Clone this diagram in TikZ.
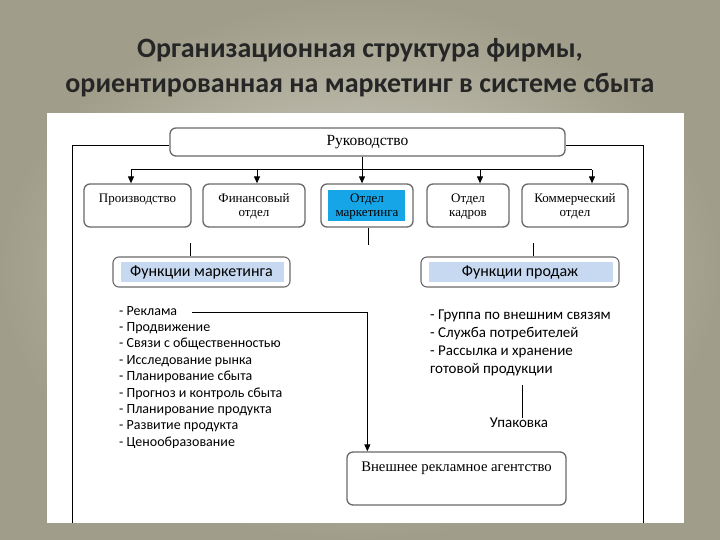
\documentclass[tikz,border=0pt]{standalone}
\usepackage{fontspec}
\setmainfont{Liberation Serif}
\newfontfamily\calfont{Carlito}
\usetikzlibrary{
  arrows.meta,
  positioning
}
\definecolor{bgout}{RGB}{160,157,138}
\definecolor{bgin}{RGB}{214,213,202}
\definecolor{edgegray}{RGB}{105,105,105}
\definecolor{mktblue}{RGB}{22,166,232}
\definecolor{palblue}{RGB}{198,217,240}
\definecolor{titlecol}{RGB}{38,38,38}

\begin{document}
\begin{tikzpicture}[x=1pt,y=1pt,
  box/.style={draw=edgegray,line width=1.3pt,rounded corners=6pt,fill=white,inner sep=0pt},
  boxtext/.style={font=\fontsize{13}{14}\selectfont,align=center,inner sep=0pt,anchor=north},
  funtext/.style={font=\calfont\fontsize{16}{18}\selectfont,inner sep=0pt},
  listtext/.style={font=\calfont\fontsize{14}{15}\selectfont,inner sep=0pt,anchor=west,
    text height=9pt,text depth=3pt},
  rlisttext/.style={font=\calfont\fontsize{15}{16}\selectfont,inner sep=0pt,anchor=west,
    text height=9pt,text depth=3pt},
  titletext/.style={font=\calfont\bfseries\fontsize{28}{30}\selectfont,text=titlecol,inner sep=0pt},
  conn/.style={line width=1pt},
  arr/.style={conn,-{Triangle[length=7pt,width=6pt]}}
]
\useasboundingbox (0,0) rectangle (720,-540);
\shade[inner color=bgin,outer color=bgout] (0,0) rectangle (720,-540);

% title
\node[titletext] (title1) at (360,-50) {Организационная структура фирмы,};
\node[titletext] (title2) at (360,-85) {ориентированная на маркетинг в системе сбыта};

% sheet
\fill[white] (47,-113) rectangle (684,-523);

% head
\node[box,minimum width=395,minimum height=28] (ruk) at (367.5,-142) {};
\node[boxtext,font=\fontsize{15.5}{17}\selectfont,anchor=center] (rukt) at (ruk) {Руководство};

% departments
\node[box,minimum width=107,minimum height=43] (proizv) at (137.5,-205.5) {};
\node[box,minimum width=102,minimum height=43] (finans) at (254,-205.5) {};
\node[box,minimum width=92,minimum height=43] (market) at (367,-205.5) {};
\node[box,minimum width=82,minimum height=43] (kadry) at (468,-205.5) {};
\node[box,minimum width=106,minimum height=43] (kommerc) at (575,-205.5) {};
\fill[mktblue] ([shift={(8pt,-7pt)}]market.north west) rectangle ([shift={(-9pt,7pt)}]market.south east);

\node[boxtext,below=10pt of proizv.north] (proizvt) {Производство};
\node[boxtext,below=10pt of finans.north] (finanst) {Финансовый\\отдел};
\node[boxtext,below=10pt of market.north] (marktt) {Отдел\\маркетинга};
\node[boxtext,below=10pt of kadry.north] (kadryt) {Отдел\\кадров};
\node[boxtext,below=10pt of kommerc.north] (kommerct) {Коммерческий\\отдел};

% bus
\coordinate (b1) at (131,-170);
\coordinate (b2) at (257,-170);
\coordinate (b3) at (362,-170);
\coordinate (b4) at (480,-170);
\coordinate (b5) at (592,-170);
\draw[conn] (b1) -- (b5);
\draw[arr] (ruk.south -| b3) -- (b3 |- market.north);
\draw[arr] (b1) -- (b1 |- proizv.north);
\draw[arr] (b2) -- (b2 |- finans.north);
\draw[arr] (b4) -- (b4 |- kadry.north);
\draw[arr] (b5) -- (b5 |- kommerc.north);

% outer frame
\coordinate (fl) at (72,-523);
\coordinate (fr) at (643,-523);
\draw[conn] (fl) |- ([yshift=-4pt]ruk.west);
\draw[conn] (fr) |- ([yshift=-4pt]ruk.east);

% functions
\node[box,line width=1.1pt,minimum width=177,minimum height=30] (funmark) at (201.5,-272) {};
\node[box,line width=1.1pt,minimum width=198,minimum height=30] (funprod) at (520,-272) {};
\fill[palblue] ([shift={(9pt,-6pt)}]funmark.north west) rectangle ([shift={(-7pt,6pt)}]funmark.south east);
\fill[palblue] ([shift={(9pt,-6pt)}]funprod.north west) rectangle ([shift={(-7pt,6pt)}]funprod.south east);
\node[funtext] (funmarkt) at (funmark) {Функции маркетинга};
\node[funtext] (funprodt) at (funprod) {Функции продаж};

\coordinate (mdrop) at (368,-245);
\coordinate (fmk) at (190,-243);
\coordinate (fpr) at (533,-243);
\draw[conn] (mdrop |- market.south) -- (mdrop);
\draw[conn] (fmk) -- (fmk |- funmark.north);
\draw[conn] (fpr) -- (fpr |- funprod.north);

% marketing list
\begin{scope}
\clip (100,-300) rectangle (340,-447);
\foreach \txt [count=\i] in {Реклама,Продвижение,Связи с общественностью,Исследование рынка,
  Планирование сбыта,Прогноз и контроль сбыта,Планирование продукта,Развитие продукта,Ценообразование}
  \node[listtext] (fm\i) at (119,{-312-16.4*(\i-1)}) {- \txt};
\end{scope}

% sales list
\foreach \txt [count=\i] in {- Группа по внешним связям,- Служба потребителей,- Рассылка и хранение,готовой продукции}
  \node[rlisttext] (fp\i) at (430,{-316-18.3*(\i-1)}) {\txt};

\node[rlisttext,anchor=center] (upak) at (519,-424) {Упаковка};
\coordinate (up) at (522,-385);
\draw[conn] (up) -- (up |- upak.north);

% agency
\node[box,minimum width=219,minimum height=53] (vnesh) at (456.5,-478.5) {};
\node[boxtext,font=\fontsize{14.7}{16}\selectfont,below=10pt of vnesh.north] (vnesht) {Внешнее рекламное агентство};
\draw[arr] ([xshift=15pt]fm1.east) -| ([xshift=21pt]vnesh.north west);
\end{tikzpicture}
\end{document}
